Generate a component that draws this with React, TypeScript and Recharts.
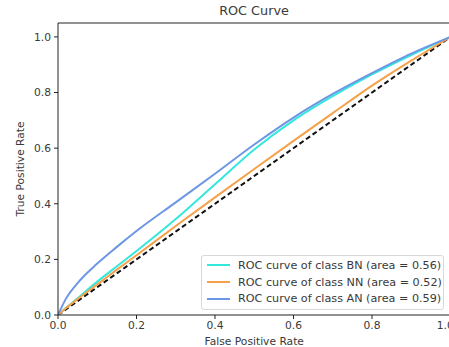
import React from "react";
import { LineChart, Line, XAxis, YAxis, ReferenceLine } from "recharts";

const fpr = [0, 0.02, 0.05, 0.1, 0.15, 0.2, 0.3, 0.4, 0.5, 0.6, 0.7, 0.8, 0.9, 1.0];
const tprBN = [0, 0.025, 0.06, 0.12, 0.175, 0.23, 0.345, 0.47, 0.595, 0.7, 0.787, 0.865, 0.935, 1.0];
const tprNN = [0, 0.024, 0.057, 0.11, 0.163, 0.215, 0.32, 0.423, 0.525, 0.626, 0.726, 0.825, 0.915, 1.0];
const tprAN = [0, 0.058, 0.115, 0.185, 0.245, 0.302, 0.405, 0.508, 0.613, 0.71, 0.795, 0.87, 0.94, 1.0];
const chanceX = [0, 1];
const chanceY = [0, 1];

const classNames = ["BN", "NN", "AN"];
const areas = ["0.56", "0.52", "0.59"];
const colors = ["#33e8dc", "#f7a04a", "#6d97e4"];
const xTicks = [0, 0.2, 0.4, 0.6, 0.8, 1.0];
const yTicks = [0, 0.2, 0.4, 0.6, 0.8, 1.0];

const data = fpr.map((x, i) => ({ fpr: x, BN: tprBN[i], NN: tprNN[i], AN: tprAN[i] }));
const chance = chanceX.map((x, i) => ({ fpr: x, chance: chanceY[i] }));

const FONT = "'DejaVu Sans', sans-serif";
const TXT = "#3a3a3a";

const LegendBox = () => (
  <div
    style={{
      position: "absolute",
      left: 201,
      top: 255,
      width: 243,
      height: 55,
      border: "1px solid #d8d8d8",
      borderRadius: 3,
      background: "rgba(255,255,255,0.85)",
      boxSizing: "border-box",
      paddingTop: 1,
    }}
  >
    {classNames.map((c, i) => (
      <div key={c} style={{ display: "flex", alignItems: "center", height: 16.7 }}>
        <div style={{ width: 23, height: 2, background: colors[i], marginLeft: 5, marginRight: 8 }} />
        <span style={{ fontFamily: FONT, fontSize: 11.2, color: TXT, whiteSpace: "nowrap" }}>
          {`ROC curve of class ${c} (area = ${areas[i]})`}
        </span>
      </div>
    ))}
  </div>
);

export default function App() {
  return (
    <div style={{ position: "absolute", left: 0, top: 0, width: 449, height: 347, overflow: "hidden", background: "#fff" }}>
      <div
        style={{
          position: "absolute",
          left: 0,
          width: 508,
          top: 3,
          textAlign: "center",
          fontFamily: FONT,
          fontSize: 12.8,
          color: TXT,
        }}
      >
        ROC Curve
      </div>
      <LineChart width={452} height={347} data={data} margin={{ top: 23, right: 1.5, bottom: 0, left: 0 }}>
        <XAxis
          dataKey="fpr"
          type="number"
          domain={[0, 1]}
          ticks={xTicks}
          tickFormatter={(v: number) => v.toFixed(1)}
          height={32}
          tickSize={4}
          tickMargin={2}
          axisLine={{ stroke: "#222" }}
          tickLine={{ stroke: "#222" }}
          tick={{ fontFamily: FONT, fontSize: 10.7, fill: TXT }}
          allowDataOverflow
          label={{ value: "False Positive Rate", position: "insideBottom", offset: 2, style: { fontFamily: FONT, fontSize: 10.7, fill: TXT } }}
        />
        <YAxis
          type="number"
          domain={[0, 1.05]}
          ticks={yTicks}
          tickFormatter={(v: number) => v.toFixed(1)}
          width={58}
          tickSize={4}
          tickMargin={3}
          axisLine={{ stroke: "#222" }}
          tickLine={{ stroke: "#222" }}
          tick={{ fontFamily: FONT, fontSize: 10.7, fill: TXT }}
          allowDataOverflow
          label={{
            value: "True Positive Rate",
            angle: -90,
            position: "insideLeft",
            offset: 20,
            style: { fontFamily: FONT, fontSize: 10.7, fill: TXT, textAnchor: "middle" },
          }}
        />
        <ReferenceLine y={1.05} stroke="#222" />
        <Line data={chance} dataKey="chance" stroke="#111" strokeWidth={2} strokeDasharray="5 3" dot={false} isAnimationActive={false} legendType="none" />
        {classNames.map((c, i) => (
          <Line
            key={c}
            dataKey={c}
            type="monotone"
            stroke={colors[i]}
            strokeWidth={2}
            dot={false}
            isAnimationActive={false}
          />
        ))}
      </LineChart>
      <LegendBox />
    </div>
  );
}
